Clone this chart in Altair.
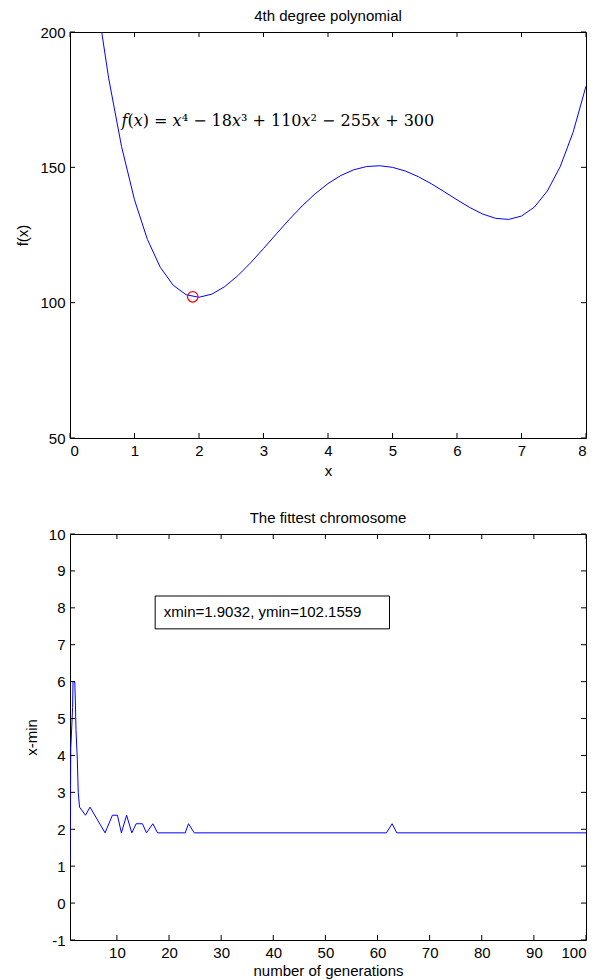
import altair as alt
import pandas as pd

# ---------------- top panel data ----------------
poly_x = [0.4, 0.6, 0.8, 1.0, 1.2, 1.4, 1.6, 1.8, 2.0, 2.2, 2.4, 2.6, 2.8, 3.0,
          3.2, 3.4, 3.6, 3.8, 4.0, 4.2, 4.4, 4.6, 4.8, 5.0, 5.2, 5.4, 5.6, 5.8,
          6.0, 6.2, 6.4, 6.6, 6.8, 7.0, 7.2, 7.4, 7.6, 7.8, 8.0]
poly_y = [214.47, 182.84, 157.59, 138.0, 123.37, 113.05, 106.43, 102.92, 102.0,
          103.16, 105.95, 109.93, 114.73, 120.0, 125.43, 130.76, 135.75, 140.22,
          144.0, 146.99, 149.10, 150.30, 150.59, 150.0, 148.62, 146.55, 143.96,
          141.03, 138.0, 135.13, 132.73, 131.15, 130.76, 132.0, 135.32, 141.23,
          150.25, 162.97, 180.0]
best_x = [1.9032]
best_y = [102.1559]
top_xticks = [0, 1, 2, 3, 4, 5, 6, 7, 8]
top_yticks = [50, 100, 150, 200]
equation = ["\U0001D453(\U0001D465) = \U0001D465\u2074 \u2212 18\U0001D465\u00B3 + 110\U0001D465\u00B2 \u2212 255\U0001D465 + 300"]

# ---------------- bottom panel data ----------------
generation = [1.0, 1.15, 1.5, 1.58, 1.92, 2.02, 2.15, 2.4, 2.58, 2.83, 3.98, 4.84,
              7.73, 9.13, 10.1, 10.86, 11.86, 12.86, 13.69, 14.9, 15.67, 16.9,
              17.8, 23.1, 23.74, 24.84, 61.7, 62.8, 63.7, 100.0]
xmin_best = [1.15, 4.2, 5.3, 6.0, 6.0, 5.5, 4.7, 3.9, 3.0, 2.6, 2.38, 2.6,
             1.9032, 2.38, 2.38, 1.9032, 2.38, 1.9032, 2.15, 2.15, 1.9032, 2.15,
             1.9032, 1.9032, 2.15, 1.9032, 1.9032, 2.15, 1.9032, 1.9032]
bot_xticks = [10, 20, 30, 40, 50, 60, 70, 80, 90, 100]
bot_yticks = [-1, 0, 1, 2, 3, 4, 5, 6, 7, 8, 9, 10]
result_text = ["xmin=1.9032, ymin=102.1559"]

# annotation placement (data coordinates)
EQ_X, EQ_Y = 0.80, 167.0
BOX_X1, BOX_X2, BOX_Y1, BOX_Y2 = 17.34, 62.3, 8.32, 7.43
TXT_X, TXT_Y = 19.0, 7.88

W, H = 516, 406
FONT = "Liberation Sans"
FS = 15
TICK = 5


def axis(values, title, **kw):
    return alt.Axis(values=values, title=title, ticks=False, domain=False, grid=False,
                    labelFont=FONT, labelFontSize=FS, labelColor="black",
                    titleFont=FONT, titleFontSize=FS, titleColor="black",
                    titleFontWeight="normal", labelPadding=5,
                    labelExpr="'' + datum.value", **kw)


def tick_layers(xvals, yvals, xs, ys, xax, yax):
    xt = pd.DataFrame({"t": xvals})
    yt = pd.DataFrame({"t": yvals})
    base_x = alt.Chart(xt).mark_rule(color="black", strokeWidth=1)
    base_y = alt.Chart(yt).mark_rule(color="black", strokeWidth=1)
    xenc = alt.X("t:Q", scale=xs, axis=xax)
    yenc = alt.Y("t:Q", scale=ys, axis=yax)
    return [
        base_x.encode(x=xenc, y=alt.value(H), y2=alt.value(H - TICK)),
        base_x.encode(x=xenc, y=alt.value(0), y2=alt.value(TICK)),
        base_y.encode(y=yenc, x=alt.value(0), x2=alt.value(TICK)),
        base_y.encode(y=yenc, x=alt.value(W), x2=alt.value(W - TICK)),
    ]


# ---------------- top chart ----------------
xs1 = alt.Scale(domain=[0, 8], nice=False, zero=False)
ys1 = alt.Scale(domain=[50, 200], nice=False, zero=False)
xax1 = axis(top_xticks, "x", titlePadding=5)
yax1 = axis(top_yticks, "f(x)", titleX=-48, titleY=H / 2, titleBaseline="middle")

poly_df = pd.DataFrame({"x": poly_x, "y": poly_y})
curve = alt.Chart(poly_df).mark_line(color="#0000ff", strokeWidth=1, clip=True).encode(
    x=alt.X("x:Q", scale=xs1, axis=xax1),
    y=alt.Y("y:Q", scale=ys1, axis=yax1),
)
best = alt.Chart(pd.DataFrame({"x": best_x, "y": best_y})).mark_point(
    shape="circle", filled=False, color="#ff0000", size=110, strokeWidth=1.2, opacity=1
).encode(x=alt.X("x:Q", scale=xs1, axis=xax1), y=alt.Y("y:Q", scale=ys1, axis=yax1))
eq = alt.Chart(pd.DataFrame({"x": [EQ_X], "y": [EQ_Y], "t": equation})).mark_text(
    align="left", baseline="middle", font="DejaVu Serif", fontSize=16, color="black"
).encode(x=alt.X("x:Q", scale=xs1, axis=xax1), y=alt.Y("y:Q", scale=ys1, axis=yax1), text="t:N")

top = alt.layer(curve, best, eq, *tick_layers(top_xticks, top_yticks, xs1, ys1, xax1, yax1)).properties(
    width=W, height=H,
    title=alt.TitleParams("4th degree polynomial", font=FONT, fontSize=FS,
                          fontWeight="normal", color="black", offset=1),
)

# ---------------- bottom chart ----------------
xs2 = alt.Scale(domain=[1, 100], nice=False, zero=False)
ys2 = alt.Scale(domain=[-1, 10], nice=False, zero=False)
xax2 = axis(bot_xticks, "number of generations", titlePadding=3)
yax2 = axis(bot_yticks, "x-min", titleX=-39, titleY=H / 2, titleBaseline="middle")

gen_df = pd.DataFrame({"g": generation, "v": xmin_best})
gline = alt.Chart(gen_df).mark_line(color="#0000ff", strokeWidth=1, clip=True).encode(
    x=alt.X("g:Q", scale=xs2, axis=xax2),
    y=alt.Y("v:Q", scale=ys2, axis=yax2),
)
box = alt.Chart(pd.DataFrame({"x1": [BOX_X1], "x2": [BOX_X2], "y1": [BOX_Y1], "y2": [BOX_Y2]})).mark_rect(
    fill="white", stroke="black", strokeWidth=1
).encode(x=alt.X("x1:Q", scale=xs2, axis=xax2), x2="x2:Q",
         y=alt.Y("y1:Q", scale=ys2, axis=yax2), y2="y2:Q")
btxt = alt.Chart(pd.DataFrame({"x": [TXT_X], "y": [TXT_Y], "t": result_text})).mark_text(
    align="left", baseline="middle", font=FONT, fontSize=FS, color="black"
).encode(x=alt.X("x:Q", scale=xs2, axis=xax2), y=alt.Y("y:Q", scale=ys2, axis=yax2), text="t:N")

bottom = alt.layer(gline, box, btxt, *tick_layers(bot_xticks, bot_yticks, xs2, ys2, xax2, yax2)).properties(
    width=W, height=H,
    title=alt.TitleParams("The fittest chromosome", font=FONT, fontSize=FS,
                          fontWeight="normal", color="black", offset=1),
)

chart = alt.vconcat(top, bottom, spacing=31).properties(
    padding={"left": 6, "top": 0, "right": 0, "bottom": 0},
    background="white",
).configure_view(stroke="black", strokeWidth=1)

chart.save("out.html", embed_options={"renderer": "svg", "actions": False})
